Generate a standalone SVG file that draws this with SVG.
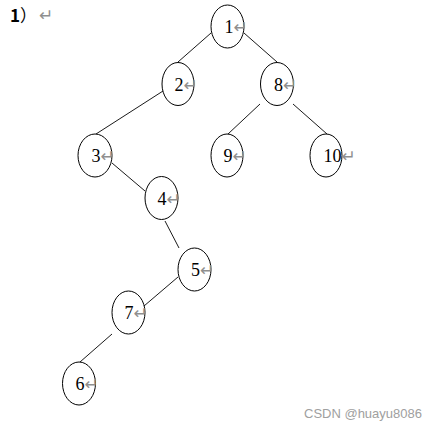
<svg xmlns="http://www.w3.org/2000/svg" width="447" height="431" viewBox="0 0 447 431">
<style>
.node ellipse{fill:#fff;stroke:#000;stroke-width:1}
.lbl{font-family:"Liberation Serif","Times New Roman",serif;font-size:18px;fill:#000}
.pm{font-family:"DejaVu Sans",sans-serif;font-size:17px;fill:#8f8f8f}
#edges line{stroke:#000;stroke-width:0.9}
</style>
<rect width="447" height="431" fill="#fff"/>
<text x="10" y="22" font-family="'Noto Sans CJK SC','Liberation Sans',sans-serif" font-size="17" font-weight="bold" fill="#000">1<tspan font-weight="normal">）</tspan></text>
<text class="pm" x="39" y="21">↵</text>
<g id="edges">
<line x1="211" y1="33" x2="178" y2="62"/>
<line x1="244" y1="33" x2="277" y2="62"/>
<line x1="163" y1="91" x2="96" y2="134"/>
<line x1="260" y1="104" x2="228" y2="134"/>
<line x1="293" y1="104" x2="327" y2="134"/>
<line x1="112" y1="163" x2="145" y2="191"/>
<line x1="165" y1="221" x2="179" y2="248"/>
<line x1="178" y1="277" x2="144" y2="306"/>
<line x1="112" y1="334" x2="80" y2="362"/>
</g>
<g id="n1" class="node"><ellipse cx="227.5" cy="26.5" rx="16.5" ry="21.5"/><text class="lbl" x="224.5" y="33">1<tspan class="pm">↵</tspan></text></g>
<g id="n2" class="node"><ellipse cx="178" cy="84" rx="16" ry="21.5"/><text class="lbl" x="174.5" y="91">2<tspan class="pm">↵</tspan></text></g>
<g id="n8" class="node"><ellipse cx="277" cy="84" rx="16.5" ry="21.5"/><text class="lbl" x="274" y="91">8<tspan class="pm">↵</tspan></text></g>
<g id="n3" class="node"><ellipse cx="95" cy="155.5" rx="17" ry="21.5"/><text class="lbl" x="91.5" y="162">3<tspan class="pm">↵</tspan></text></g>
<g id="n9" class="node"><ellipse cx="227" cy="155.5" rx="16" ry="21.5"/><text class="lbl" x="223.5" y="162">9<tspan class="pm">↵</tspan></text></g>
<g id="n10" class="node"><ellipse cx="326" cy="155.5" rx="16" ry="21.5"/><text class="lbl" x="323.5" y="162">10<tspan class="pm">↵</tspan></text></g>
<g id="n4" class="node"><ellipse cx="161.5" cy="198" rx="16.5" ry="21.5"/><text class="lbl" x="157.5" y="205">4<tspan class="pm">↵</tspan></text></g>
<g id="n5" class="node"><ellipse cx="194.5" cy="269.5" rx="16.5" ry="21.5"/><text class="lbl" x="191" y="276">5<tspan class="pm">↵</tspan></text></g>
<g id="n7" class="node"><ellipse cx="128.5" cy="312.5" rx="16.5" ry="21.5"/><text class="lbl" x="124.5" y="319">7<tspan class="pm">↵</tspan></text></g>
<g id="n6" class="node"><ellipse cx="79" cy="383.5" rx="16.5" ry="21.5"/><text class="lbl" x="75.5" y="390">6<tspan class="pm">↵</tspan></text></g>
<text x="304" y="418" font-family="'Liberation Sans',Arial,sans-serif" font-size="13" fill="#a0a0a0">CSDN @huayu8086</text>
</svg>
